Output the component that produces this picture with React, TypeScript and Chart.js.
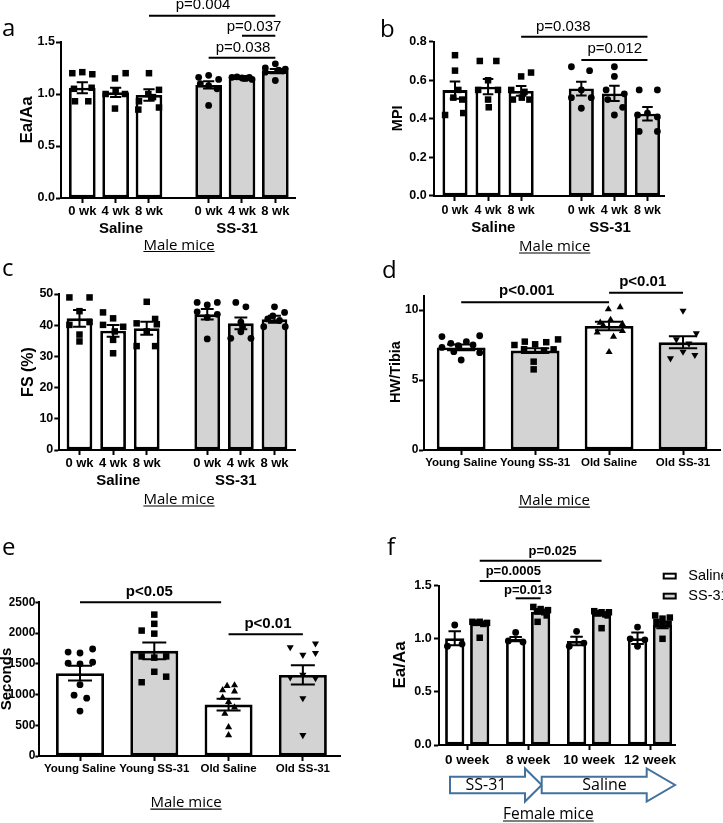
import React, { useEffect, useRef } from 'react';
import { Chart, registerables } from 'chart.js';

Chart.register(...registerables);

const PAGE_W = 723;
const PAGE_H = 823;
const ARIAL = '"Liberation Sans", Arial, Helvetica, sans-serif';
const SOFT = '"Open Sans", "Noto Sans", sans-serif';
const GRAY = '#d3d3d3';
const WHITE = '#ffffff';
const ARROW_BLUE = '#41719c';

// ---------------- Panel a : Ea/Aa (male) ----------------
const aTickLabels = ['0 wk', '4 wk', '8 wk', '0 wk', '4 wk', '8 wk'];
const aMeans = [1.06, 1.016, 0.99, 1.087, 1.16, 1.22];
const aSems = [0.053, 0.044, 0.055, 0.035, 0.01, 0.02];
const aPoints = [
  [1.2, 1.21, 1.19, 1.05, 1.06, 0.93, 0.93],
  [1.15, 1.2, 1.0, 1.0, 0.86, 1.03],
  [1.2, 1.04, 1.0, 0.97, 0.93, 0.87, 0.85],
  [1.16, 1.18, 1.14, 1.1, 1.08, 1.05, 0.89],
  [1.16, 1.165, 1.155, 1.15, 1.16, 1.14, 1.15],
  [1.29, 1.25, 1.24, 1.23, 1.21, 1.22, 1.13],
];
const aJitter = [
  [-0.3, 0, 0.3, -0.25, 0.28, -0.22, 0.18],
  [-0.02, 0.3, -0.3, 0.28, -0.02, 0],
  [0, 0.3, -0.02, 0.12, -0.3, 0.3, -0.32],
  [-0.3, 0, 0.3, -0.25, 0, 0.25, 0],
  [-0.3, -0.15, 0, 0.12, 0.22, 0.3, 0.05],
  [0, -0.3, 0.3, 0.1, -0.3, 0.22, 0],
];

// ---------------- Panel b : MPI (male) ----------------
const bTickLabels = ['0 wk', '4 wk', '8 wk', '0 wk', '4 wk', '8 wk'];
const bMeans = [0.549, 0.567, 0.545, 0.557, 0.532, 0.427];
const bSems = [0.045, 0.04, 0.025, 0.036, 0.04, 0.035];
const bPoints = [
  [0.73, 0.65, 0.55, 0.51, 0.5, 0.42, 0.43],
  [0.7, 0.7, 0.6, 0.55, 0.55, 0.5, 0.46],
  [0.62, 0.64, 0.55, 0.54, 0.5, 0.5, 0.51],
  [0.67, 0.65, 0.55, 0.51, 0.51, 0.455],
  [0.67, 0.62, 0.55, 0.53, 0.5, 0.46, 0.42],
  [0.55, 0.55, 0.43, 0.42, 0.41, 0.335, 0.335],
];
const bJitter = [
  [0, 0, 0.1, -0.05, 0.22, -0.3, 0.25],
  [-0.25, 0.25, 0, -0.3, 0.3, 0, 0.02],
  [0, 0.3, -0.3, 0.1, -0.25, 0.25, 0.02],
  [-0.3, 0.25, 0, -0.3, 0.3, 0],
  [0, 0, -0.25, 0.3, -0.2, 0.25, 0],
  [-0.25, 0.3, 0, -0.3, 0.3, -0.25, 0.3],
];

// ---------------- Panel c : FS (%) (male) ----------------
const cTickLabels = ['0 wk', '4 wk', '8 wk', '0 wk', '4 wk', '8 wk'];
const cMeans = [42.2, 38.2, 39.0, 43.5, 40.6, 41.9];
const cSems = [2.7, 1.9, 2.1, 1.7, 1.9, 1.1];
const cPoints = [
  [48.9, 48.9, 44.5, 40.1, 41.0, 37.0, 34.8],
  [44.1, 42.2, 40.1, 39.5, 38.0, 35.3, 31.0],
  [47.5, 42.0, 40.6, 40.3, 38.0, 33.3, 33.3],
  [47.3, 46.5, 47.3, 44.3, 42.5, 43.5, 35.6],
  [47.3, 45.9, 41.0, 39.5, 37.9, 35.8, 35.8],
  [45.9, 44.1, 43.0, 42.0, 41.5, 39.5, 39.5],
];
const cJitter = [
  [-0.3, 0.3, 0, -0.3, 0.3, 0, 0],
  [-0.3, 0, -0.3, 0.3, 0.05, 0, 0],
  [0, 0.25, -0.3, 0.3, 0, -0.3, 0.25],
  [-0.3, 0, 0.3, -0.3, 0, 0.3, 0],
  [-0.15, 0.15, 0, 0.05, 0, -0.3, 0.3],
  [0, 0.3, -0.05, -0.2, 0.15, -0.32, 0.32],
];

// ---------------- Panel d : HW/Tibia (male) ----------------
const dTickLabels = ['Young Saline', 'Young SS-31', 'Old Saline', 'Old SS-31'];
const dMeans = [7.33, 7.1, 8.86, 7.69];
const dSems = [0.2, 0.17, 0.3, 0.43];
const dPoints = [
  [8.1, 8.16, 7.62, 7.74, 7.33, 6.95, 7.02, 6.43, 7.5, 7.45],
  [7.5, 7.74, 7.9, 7.55, 7.7, 7.19, 7.2, 6.31, 5.76, 7.1],
  [10.05, 10.2, 9.1, 9.3, 9.0, 8.4, 8.1, 8.5, 8.9, 7.0],
  [9.95, 8.33, 7.9, 7.6, 7.02, 6.79, 6.55],
];
const dJitter = [
  [-0.26, 0.25, -0.14, 0.07, -0.26, 0.25, -0.1, 0, 0.16, -0.04],
  [-0.28, -0.14, 0.31, 0, 0.15, 0.25, -0.15, -0.02, -0.02, 0.12],
  [-0.01, 0.15, -0.12, 0.02, 0.18, -0.16, 0.06, 0.18, -0.08, 0],
  [0, 0.18, -0.09, 0.08, 0, 0.16, -0.17],
];

// ---------------- Panel e : Seconds (male) ----------------
const eTickLabels = ['Young Saline', 'Young SS-31', 'Old Saline', 'Old SS-31'];
const eMeans = [1347, 1710, 836, 1319];
const eSems = [120, 135, 95, 158];
const ePoints = [
  [1690, 1675, 1740, 1510, 1500, 1525, 1160, 990, 940, 730],
  [2300, 2150, 2040, 1990, 1620, 1600, 1620, 1370, 1200, 1290],
  [1150, 1070, 1140, 1050, 950, 880, 790, 690, 470, 340],
  [1770, 1645, 1830, 1675, 1280, 1320, 1265, 940, 340],
];
const eJitter = [
  [-0.16, 0, 0.17, -0.16, 0, 0.17, 0, -0.08, 0.09, 0],
  [0, 0, -0.17, 0, -0.17, 0, 0.16, 0, -0.17, 0.16],
  [0.08, -0.08, -0.02, 0.08, -0.08, 0, 0.08, -0.05, 0, 0],
  [-0.17, 0, 0.17, 0.17, -0.17, 0, 0.17, 0, 0],
];

// ---------------- Panel f : Ea/Aa (female) ----------------
const fTickLabels = ['0 week', '8 week', '10 week', '12 week'];
const fSeries = ['Saline', 'SS-31'];
const fSalineMeans = [1.005, 0.998, 0.979, 1.005];
const fSalineSems = [0.065, 0.02, 0.04, 0.055];
const fSSMeans = [1.146, 1.255, 1.233, 1.13];
const fSSSems = [0.015, 0.02, 0.01, 0.03];
const fSalinePoints = [
  [1.13, 0.93, 0.95],
  [1.06, 0.98, 0.97],
  [1.07, 0.93, 0.96],
  [1.11, 1.0, 0.99, 0.93],
];
const fSalineJitter = [
  [0, -0.12, 0.12],
  [0, -0.12, 0.12],
  [0, -0.12, 0.12],
  [0, -0.12, 0.12, 0],
];
const fSSPoints = [
  [1.16, 1.16, 1.15, 1.15, 1.14, 1.01],
  [1.3, 1.28, 1.27, 1.26, 1.25, 1.22, 1.16],
  [1.26, 1.25, 1.25, 1.24, 1.23, 1.22, 1.1],
  [1.22, 1.2, 1.19, 1.16, 1.14, 1.13, 1.0],
];
const fSSJitter = [
  [-0.12, 0, 0.12, -0.06, 0.06, 0],
  [-0.12, 0, 0.12, -0.06, 0.06, 0.1, -0.05],
  [-0.12, 0, 0.12, -0.06, 0.06, 0.1, 0],
  [-0.12, 0.12, 0, -0.1, 0.1, 0, 0],
];

// ---------------- markers ----------------
type Marker = { style: string; rot: number; r: number };
const SQUARE: Marker = { style: 'rect', rot: 0, r: 4.6 };
const CIRCLE: Marker = { style: 'circle', rot: 0, r: 3.4 };
const TRI_UP: Marker = { style: 'triangle', rot: 0, r: 4.1 };
const TRI_DOWN: Marker = { style: 'triangle', rot: 180, r: 4.1 };

// ---------------- drawing helpers ----------------
function put(ctx: CanvasRenderingContext2D, s: string, x: number, y: number, size: number, weight = 'normal', family = ARIAL, align: CanvasTextAlign = 'center', baseline: CanvasTextBaseline = 'middle') {
  ctx.save();
  ctx.fillStyle = '#000';
  ctx.font = `${weight} ${size}px ${family}`;
  ctx.textAlign = align;
  ctx.textBaseline = baseline;
  ctx.fillText(s, x, y);
  ctx.restore();
}
function putUnder(ctx: CanvasRenderingContext2D, s: string, cx: number, base: number, size: number) {
  ctx.save();
  ctx.fillStyle = '#000';
  ctx.font = `${size}px ${SOFT}`;
  ctx.textAlign = 'center';
  ctx.textBaseline = 'alphabetic';
  ctx.fillText(s, cx, base);
  const w = ctx.measureText(s).width;
  ctx.strokeStyle = '#000';
  ctx.lineWidth = 1.2;
  ctx.beginPath();
  ctx.moveTo(cx - w / 2, base + 2);
  ctx.lineTo(cx + w / 2, base + 2);
  ctx.stroke();
  ctx.restore();
}
function putY(ctx: CanvasRenderingContext2D, s: string, cx: number, cy: number, size: number) {
  ctx.save();
  ctx.translate(cx, cy);
  ctx.rotate(-Math.PI / 2);
  ctx.fillStyle = '#000';
  ctx.font = `bold ${size}px ${ARIAL}`;
  ctx.textAlign = 'center';
  ctx.textBaseline = 'middle';
  ctx.fillText(s, 0, 0);
  ctx.restore();
}
function letter(ctx: CanvasRenderingContext2D, s: string, x: number, base: number) {
  put(ctx, s, x, base, 24, 'normal', SOFT, 'left', 'alphabetic');
}
function bracket(ctx: CanvasRenderingContext2D, chart: any, v1: number, v2: number, y: number) {
  const xs = chart.scales.x;
  ctx.save();
  ctx.strokeStyle = '#000';
  ctx.lineWidth = 2;
  ctx.beginPath();
  ctx.moveTo(xs.getPixelForValue(v1), y);
  ctx.lineTo(xs.getPixelForValue(v2), y);
  ctx.stroke();
  ctx.restore();
}
function drawErrorBars(chart: any, dsIndex: number, means: number[], sems: number[], capRatio: number) {
  const meta = chart.getDatasetMeta(dsIndex);
  const ys = chart.scales.y;
  const ctx = chart.ctx;
  ctx.save();
  ctx.strokeStyle = '#000';
  ctx.lineWidth = 2;
  meta.data.forEach((el: any, i: number) => {
    const x = el.x;
    const hw = (el.width * capRatio) / 2;
    const yt = ys.getPixelForValue(means[i] + sems[i]);
    const yb = ys.getPixelForValue(means[i] - sems[i]);
    ctx.beginPath();
    ctx.moveTo(x, yt);
    ctx.lineTo(x, yb);
    ctx.moveTo(x - hw, yt);
    ctx.lineTo(x + hw, yt);
    ctx.moveTo(x - hw, yb);
    ctx.lineTo(x + hw, yb);
    ctx.stroke();
  });
  ctx.restore();
}

// ---------------- generic panel builder ----------------
type BarSet = { x: number[]; means: number[]; sems: number[]; fills: string[] };
type GroupSpec = { center: number; pts: number[]; jit: number[]; m: Marker };
type PanelSpec = {
  area: { L: number; T: number; R: number; B: number };
  xMin: number; xMax: number;
  tickPos: number[]; tickLabels: string[]; xFont: number; xPad: number;
  yMin: number; yMax: number; yStep: number; yFmt: (v: number) => string; yFont: number; yPad: number; yTickLen: number;
  bars: BarSet[]; barPct: number; catPct: number; capRatio: number;
  groups: GroupSpec[];
  draw: (ctx: CanvasRenderingContext2D, chart: any) => void;
};

function groupsFrom(slots: number[], pts: number[][], jit: number[][], markers: Marker[]): GroupSpec[] {
  return slots.map((c, i) => ({ center: c, pts: pts[i], jit: jit[i], m: markers[i] }));
}

function buildConfig(s: PanelSpec): any {
  const Y_W = 30;
  const X_H = 30;
  const datasets: any[] = [];
  s.bars.forEach((b) =>
    datasets.push({
      type: 'bar',
      data: b.x.map((x, i) => ({ x, y: b.means[i] })),
      backgroundColor: b.fills,
      borderColor: '#000',
      borderWidth: 2.8,
      borderSkipped: false,
      barPercentage: s.barPct,
      categoryPercentage: s.catPct,
      order: 2,
    })
  );
  s.groups.forEach((g) =>
    datasets.push({
      type: 'scatter',
      data: g.pts.map((v, j) => ({ x: g.center + g.jit[j], y: v })),
      pointStyle: g.m.style,
      pointRotation: g.m.rot,
      pointRadius: g.m.r,
      pointHoverRadius: g.m.r,
      pointBackgroundColor: '#000',
      pointBorderColor: '#000',
      pointBorderWidth: 0,
      showLine: false,
      order: 1,
      clip: false,
    })
  );
  const zeroPad = (sc: any) => {
    sc.paddingLeft = 0;
    sc.paddingRight = 0;
    sc.paddingTop = 0;
    sc.paddingBottom = 0;
  };
  return {
    type: 'bar',
    data: { datasets },
    options: {
      responsive: false,
      animation: false,
      devicePixelRatio: 1,
      events: [],
      layout: {
        autoPadding: false,
        padding: { left: s.area.L - Y_W, top: s.area.T, right: PAGE_W - s.area.R, bottom: PAGE_H - s.area.B - X_H },
      },
      plugins: { legend: { display: false }, tooltip: { enabled: false }, title: { display: false } },
      scales: {
        x: {
          type: 'linear',
          position: 'bottom',
          min: s.xMin,
          max: s.xMax,
          bounds: 'data',
          offset: false,
          grid: { display: true, offset: false, drawOnChartArea: false, drawTicks: true, tickLength: 5, tickWidth: 2, tickColor: '#000', color: '#000' },
          border: { display: true, color: '#000', width: 2 },
          ticks: {
            autoSkip: false,
            maxRotation: 0,
            minRotation: 0,
            padding: s.xPad,
            color: '#000',
            font: { family: ARIAL, size: s.xFont, weight: 'bold', lineHeight: 1.2 },
            callback: (_v: any, i: number) => s.tickLabels[i] ?? '',
          },
          afterBuildTicks: (sc: any) => {
            sc.ticks = s.tickPos.map((v) => ({ value: v }));
          },
          afterFit: (sc: any) => {
            sc.height = X_H;
            zeroPad(sc);
          },
        },
        y: {
          type: 'linear',
          position: 'left',
          min: s.yMin,
          max: s.yMax,
          bounds: 'data',
          grid: { display: true, drawOnChartArea: false, drawTicks: true, tickLength: s.yTickLen, tickWidth: 2, tickColor: '#000', color: '#000' },
          border: { display: true, color: '#000', width: 2 },
          ticks: {
            stepSize: s.yStep,
            includeBounds: false,
            autoSkip: false,
            padding: s.yPad,
            color: '#000',
            font: { family: ARIAL, size: s.yFont, weight: 'bold', lineHeight: 1.2 },
            callback: (v: any) => s.yFmt(Number(v)),
          },
          afterBuildTicks: (sc: any) => {
            sc.ticks = sc.ticks.filter((t: any) => {
              const k = t.value / s.yStep;
              return Math.abs(k - Math.round(k)) < 1e-6;
            });
          },
          afterFit: (sc: any) => {
            sc.width = Y_W;
            zeroPad(sc);
          },
        },
      },
    },
    plugins: [
      {
        id: 'panelExtras',
        afterDraw: (chart: any) => {
          s.bars.forEach((b, k) => drawErrorBars(chart, k, b.means, b.sems, s.capRatio));
          s.draw(chart.ctx, chart);
        },
      },
    ],
  };
}

const fmt1 = (v: number) => v.toFixed(1);
const fmt0 = (v: number) => String(Math.round(v));

// layout slots (x positions of bars along each axis)
const aSlots = [0, 1, 2, 3.79, 4.79, 5.79];
const bSlots = [0, 1, 2, 3.82, 4.82, 5.82];
const cSlots = [0, 1, 2, 3.8, 4.8, 5.8];
const deSlots = [0, 1, 2, 3];
const fSlots = [0, 1, 2, 3];
const F_CAT = 0.82;
const fOff = F_CAT / 4;

const sixFills = [WHITE, WHITE, WHITE, GRAY, GRAY, GRAY];
const fourFills = [WHITE, GRAY, WHITE, GRAY];
const sixMarkers = [SQUARE, SQUARE, SQUARE, CIRCLE, CIRCLE, CIRCLE];
const fourMarkers = [CIRCLE, SQUARE, TRI_UP, TRI_DOWN];

const PANELS: PanelSpec[] = [
  {
    area: { L: 61, T: 42, R: 295, B: 198 },
    xMin: -0.639, xMax: 6.38,
    tickPos: aSlots, tickLabels: aTickLabels, xFont: 13, xPad: 1,
    yMin: 0, yMax: 1.5, yStep: 0.5, yFmt: fmt1, yFont: 12.5, yPad: 1, yTickLen: 5,
    bars: [{ x: aSlots, means: aMeans, sems: aSems, fills: sixFills }],
    barPct: 0.8, catPct: 1, capRatio: 0.42,
    groups: groupsFrom(aSlots, aPoints, aJitter, sixMarkers),
    draw: (ctx, chart) => {
      letter(ctx, 'a', 2, 36);
      put(ctx, 'Saline', 121, 229, 15, 'bold');
      put(ctx, 'SS-31', 237, 229, 15, 'bold');
      putUnder(ctx, 'Male mice', 179, 249.5, 15);
      putY(ctx, 'Ea/Aa', 27, 120, 17);
      bracket(ctx, chart, aSlots[2], aSlots[5], 15.7);
      put(ctx, 'p=0.004', 203, 5, 15);
      bracket(ctx, chart, aSlots[4], aSlots[5], 35.7);
      put(ctx, 'p=0.037', 254, 26.7, 15);
      bracket(ctx, chart, aSlots[3], aSlots[5], 57.7);
      put(ctx, 'p=0.038', 243, 48.3, 15);
    },
  },
  {
    area: { L: 434, T: 41.7, R: 664, B: 196 },
    xMin: -0.635, xMax: 6.32,
    tickPos: bSlots, tickLabels: bTickLabels, xFont: 12.5, xPad: 2,
    yMin: 0, yMax: 0.8, yStep: 0.2, yFmt: fmt1, yFont: 12.5, yPad: 2.3, yTickLen: 5,
    bars: [{ x: bSlots, means: bMeans, sems: bSems, fills: sixFills }],
    barPct: 0.76, catPct: 1, capRatio: 0.42,
    groups: groupsFrom(bSlots, bPoints, bJitter, sixMarkers),
    draw: (ctx, chart) => {
      letter(ctx, 'b', 380, 36.7);
      put(ctx, 'Saline', 493.3, 227.7, 15, 'bold');
      put(ctx, 'SS-31', 610, 227.7, 15, 'bold');
      putUnder(ctx, 'Male mice', 554.7, 251, 15);
      putY(ctx, 'MPI', 398.3, 118.3, 14.5);
      bracket(ctx, chart, bSlots[2], bSlots[5], 36.7);
      put(ctx, 'p=0.038', 563.3, 27.3, 15);
      bracket(ctx, chart, bSlots[3], bSlots[5], 60);
      put(ctx, 'p=0.012', 614.7, 49.3, 15);
    },
  },
  {
    area: { L: 59.3, T: 294, R: 295, B: 450 },
    xMin: -0.6, xMax: 6.41,
    tickPos: cSlots, tickLabels: cTickLabels, xFont: 13, xPad: 0.5,
    yMin: 0, yMax: 50, yStep: 10, yFmt: fmt0, yFont: 12.5, yPad: 1, yTickLen: 5,
    bars: [{ x: cSlots, means: cMeans, sems: cSems, fills: sixFills }],
    barPct: 0.765, catPct: 1, capRatio: 0.5,
    groups: groupsFrom(cSlots, cPoints, cJitter, sixMarkers),
    draw: (ctx) => {
      letter(ctx, 'c', 2, 276);
      put(ctx, 'Saline', 118.3, 480.7, 15, 'bold');
      put(ctx, 'SS-31', 235.8, 480.7, 15, 'bold');
      putUnder(ctx, 'Male mice', 179, 504, 15);
      putY(ctx, 'FS (%)', 28.3, 372, 16);
    },
  },
  {
    area: { L: 424, T: 296, R: 720, B: 450 },
    xMin: -0.503, xMax: 3.5,
    tickPos: deSlots, tickLabels: dTickLabels, xFont: 11.5, xPad: 1.4,
    yMin: 0, yMax: 11, yStep: 5, yFmt: fmt0, yFont: 12, yPad: 0.7, yTickLen: 5,
    bars: [{ x: deSlots, means: dMeans, sems: dSems, fills: fourFills }],
    barPct: 0.66, catPct: 1, capRatio: 0.58,
    groups: groupsFrom(deSlots, dPoints, dJitter, fourMarkers),
    draw: (ctx, chart) => {
      letter(ctx, 'd', 382, 278);
      putUnder(ctx, 'Male mice', 554.3, 505.2, 15);
      putY(ctx, 'HW/Tibia', 396, 372, 14.5);
      bracket(ctx, chart, deSlots[0], deSlots[2], 302.3);
      put(ctx, 'p<0.001', 526.7, 290.7, 15, 'bold');
      bracket(ctx, chart, deSlots[2], deSlots[3], 292.7);
      put(ctx, 'p<0.01', 642.7, 281.7, 15, 'bold');
    },
  },
  {
    area: { L: 39.3, T: 602.3, R: 340, B: 756 },
    xMin: -0.548, xMax: 3.5,
    tickPos: deSlots, tickLabels: eTickLabels, xFont: 11.5, xPad: 1.1,
    yMin: 0, yMax: 2500, yStep: 500, yFmt: fmt0, yFont: 12, yPad: 0, yTickLen: 4,
    bars: [{ x: deSlots, means: eMeans, sems: eSems, fills: fourFills }],
    barPct: 0.646, catPct: 1, capRatio: 0.5,
    groups: groupsFrom(deSlots, ePoints, eJitter, fourMarkers),
    draw: (ctx, chart) => {
      letter(ctx, 'e', 2, 555);
      putUnder(ctx, 'Male mice', 186, 807.2, 15);
      putY(ctx, 'Seconds', 6.7, 679, 15);
      bracket(ctx, chart, deSlots[0], 1.9, 602.3);
      put(ctx, 'p<0.05', 149.3, 591.7, 15, 'bold');
      bracket(ctx, chart, deSlots[2], deSlots[3], 634.3);
      put(ctx, 'p<0.01', 268, 624.3, 15, 'bold');
    },
  },
  {
    area: { L: 439, T: 585.7, R: 675, B: 745 },
    xMin: -0.463, xMax: 3.41,
    tickPos: fSlots, tickLabels: fTickLabels, xFont: 13.5, xPad: 1.9,
    yMin: 0, yMax: 1.5, yStep: 0.5, yFmt: fmt1, yFont: 12.5, yPad: 2.3, yTickLen: 5,
    bars: [
      { x: fSlots, means: fSalineMeans, sems: fSalineSems, fills: fSlots.map(() => WHITE) },
      { x: fSlots, means: fSSMeans, sems: fSSSems, fills: fSlots.map(() => GRAY) },
    ],
    barPct: 0.77, catPct: F_CAT, capRatio: 0.65,
    groups: [
      ...groupsFrom(fSlots.map((s) => s - fOff), fSalinePoints, fSalineJitter, fSlots.map(() => CIRCLE)),
      ...groupsFrom(fSlots.map((s) => s + fOff), fSSPoints, fSSJitter, fSlots.map(() => SQUARE)),
    ],
    draw: (ctx, chart) => {
      letter(ctx, 'f', 387, 555);
      putUnder(ctx, 'Female mice', 548.3, 819, 15.5);
      putY(ctx, 'Ea/Aa', 400.8, 665, 17);
      bracket(ctx, chart, fSlots[0] + fOff, fSlots[2] + fOff, 560.7);
      put(ctx, 'p=0.025', 552.5, 551.7, 13, 'bold');
      bracket(ctx, chart, fSlots[0] + fOff, fSlots[1] + fOff, 581);
      put(ctx, 'p=0.0005', 513.3, 571, 13, 'bold');
      bracket(ctx, chart, fSlots[1] - fOff, fSlots[1] + fOff, 598.3);
      put(ctx, 'p=0.013', 528, 590, 13, 'bold');
      // legend
      ctx.save();
      ctx.lineWidth = 2;
      ctx.strokeStyle = '#000';
      [WHITE, GRAY].forEach((fill, i) => {
        const y = 573.7 + i * 20;
        ctx.fillStyle = fill;
        ctx.fillRect(663.7, y, 12, 4.8);
        ctx.strokeRect(663.7, y, 12, 4.8);
        put(ctx, fSeries[i], 688.3, 576 + i * 20, 14.5, 'normal', ARIAL, 'left');
      });
      // treatment arrows
      const arrow = (x0: number, x1: number, tip: number) => {
        ctx.beginPath();
        ctx.moveTo(x0, 776.7);
        ctx.lineTo(x1, 776.7);
        ctx.lineTo(x1, 768.5);
        ctx.lineTo(tip, 785);
        ctx.lineTo(x1, 801.5);
        ctx.lineTo(x1, 793.3);
        ctx.lineTo(x0, 793.3);
        ctx.closePath();
        ctx.fillStyle = '#fff';
        ctx.fill();
        ctx.strokeStyle = ARROW_BLUE;
        ctx.lineWidth = 2;
        ctx.stroke();
      };
      arrow(450, 525, 541.7);
      arrow(541.7, 646.7, 675);
      ctx.restore();
      put(ctx, 'SS-31', 486, 785, 16, 'normal', SOFT);
      put(ctx, 'Saline', 604.5, 785, 16, 'normal', SOFT);
    },
  },
];

function PanelCanvas({ spec }: { spec: PanelSpec }) {
  const ref = useRef<HTMLCanvasElement>(null);
  useEffect(() => {
    if (!ref.current) return;
    const chart = new Chart(ref.current, buildConfig(spec));
    return () => chart.destroy();
  }, [spec]);
  return (
    <canvas
      ref={ref}
      width={PAGE_W}
      height={PAGE_H}
      style={{ position: 'absolute', left: 0, top: 0, width: PAGE_W, height: PAGE_H }}
    />
  );
}

export default function App() {
  return (
    <div style={{ position: 'absolute', left: 0, top: 0, width: PAGE_W, height: PAGE_H, background: '#fff', overflow: 'hidden' }}>
      {PANELS.map((p, i) => (
        <PanelCanvas key={i} spec={p} />
      ))}
    </div>
  );
}
